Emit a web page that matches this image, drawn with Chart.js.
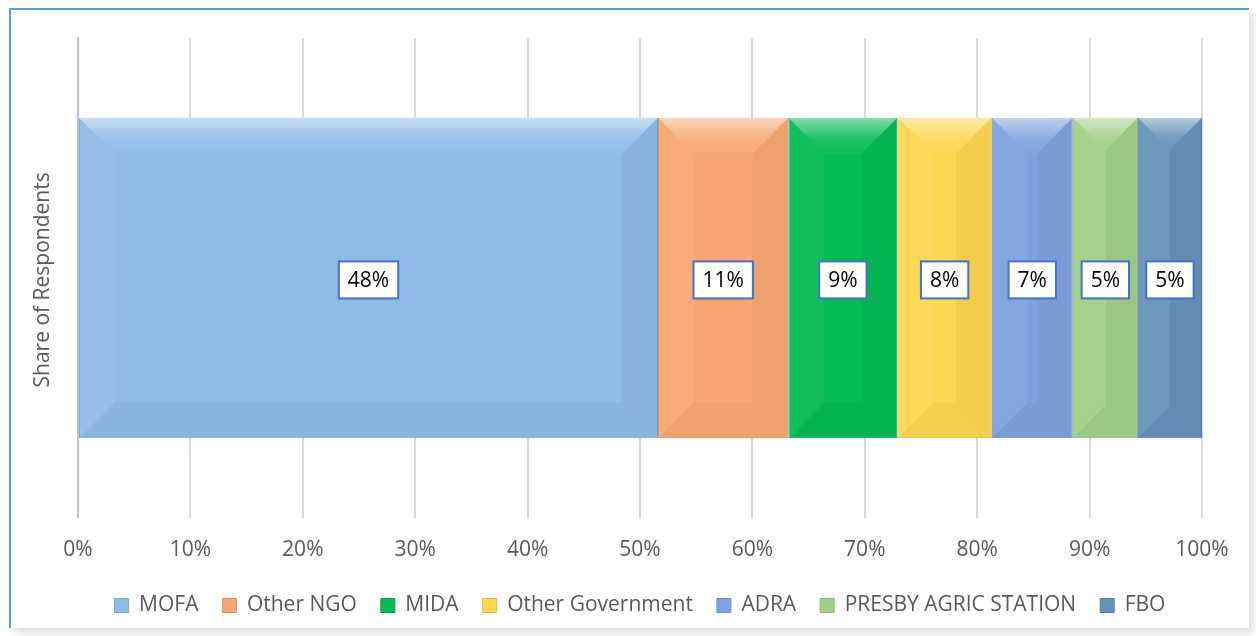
<!DOCTYPE html>
<html>
<head>
<meta charset="utf-8">
<script src="https://cdn.jsdelivr.net/npm/chart.js@4"></script>
<style>
  html, body { margin:0; padding:0; background:#fff; width:1256px; height:636px; overflow:hidden; }
  .frame { position:absolute; left:9px; top:8px; width:1238px; height:618px;
           border-left:2px solid #5b9bd5; border-top:2px solid #5b9bd5;
           box-shadow: 5px 5px 7px rgba(0,0,0,0.13); background:#fff; }
  .wrap { position:absolute; left:0; top:0; width:1256px; height:636px; }
</style>
</head>
<body>
<div class="frame"></div>
<div class="wrap"><canvas id="chart"></canvas></div>
<script>
// --- DATA ---
const groups = ["MOFA", "Other NGO", "MIDA", "Other Government", "ADRA", "PRESBY AGRIC STATION", "FBO"];
const shares = [51.6, 11.6, 9.7, 8.4, 7.2, 5.8, 5.7];   // bar length on the 100% axis
const pctLabels = [48, 11, 9, 8, 7, 5, 5];               // printed labels
const colors = ["#8fbbe8", "#f8a872", "#05bb56", "#fdd652", "#7fa2de", "#a3cf8a", "#6692ba"];
const edges  = ["#7aa6d3", "#dd9060", "#04a049", "#e2bb44", "#6b8ccb", "#8db875", "#557ea5"];
const xTicks = [0, 10, 20, 30, 40, 50, 60, 70, 80, 90, 100];
const yTitle = "Share of Respondents";

const FONT = "'Open Sans', 'Noto Sans', sans-serif";
const GREY = "#595959";
const FS = 21;

// bevel + label boxes, drawn after the bars
const bevelAndLabels = {
    id: 'bevelAndLabels',
    afterDatasetsDraw(chart) {
        const ctx = chart.ctx;
        chart.data.datasets.forEach((ds, i) => {
            const meta = chart.getDatasetMeta(i);
            meta.data.forEach(bar => {
                const l = Math.min(bar.base, bar.x), r = Math.max(bar.base, bar.x);
                const t = bar.y - bar.height / 2, b = bar.y + bar.height / 2;
                const bv = Math.min(36, (r - l) / 2);
                ctx.save();
                // top
                let g = ctx.createLinearGradient(0, t, 0, t + bv);
                g.addColorStop(0, 'rgba(255,255,255,0.5)');
                g.addColorStop(0.6, 'rgba(255,255,255,0.1)');
                g.addColorStop(1, 'rgba(255,255,255,0.03)');
                ctx.fillStyle = g;
                ctx.beginPath(); ctx.moveTo(l, t); ctx.lineTo(r, t); ctx.lineTo(r - bv, t + bv); ctx.lineTo(l + bv, t + bv); ctx.closePath(); ctx.fill();
                // left
                ctx.fillStyle = 'rgba(255,255,255,0.05)';
                ctx.beginPath(); ctx.moveTo(l, t); ctx.lineTo(l + bv, t + bv); ctx.lineTo(l + bv, b - bv); ctx.lineTo(l, b); ctx.closePath(); ctx.fill();
                // right
                ctx.fillStyle = 'rgba(0,0,0,0.04)';
                ctx.beginPath(); ctx.moveTo(r, t); ctx.lineTo(r - bv, t + bv); ctx.lineTo(r - bv, b - bv); ctx.lineTo(r, b); ctx.closePath(); ctx.fill();
                // bottom
                ctx.fillStyle = 'rgba(0,0,0,0.035)';
                ctx.beginPath(); ctx.moveTo(l, b); ctx.lineTo(r, b); ctx.lineTo(r - bv, b - bv); ctx.lineTo(l + bv, b - bv); ctx.closePath(); ctx.fill();
                ctx.restore();

                // label box
                const txt = pctLabels[i] + '%';
                ctx.save();
                ctx.font = FS + 'px ' + FONT;
                const w = ctx.measureText(txt).width + 18, h = 37;
                const cx = (l + r) / 2, cy = bar.y + 2;
                ctx.fillStyle = '#fff';
                ctx.fillRect(cx - w / 2, cy - h / 2, w, h);
                ctx.strokeStyle = '#4472c4';
                ctx.lineWidth = 2;
                ctx.strokeRect(cx - w / 2, cy - h / 2, w, h);
                ctx.fillStyle = '#000';
                ctx.textAlign = 'center';
                ctx.textBaseline = 'middle';
                ctx.fillText(txt, cx, cy + 1);
                ctx.restore();
            });
        });
    }
};

// rotated axis title, placed left of the plot
const sideTitle = {
    id: 'sideTitle',
    afterDraw(chart) {
        const ctx = chart.ctx, a = chart.chartArea;
        ctx.save();
        ctx.translate(43, (a.top + a.bottom) / 2 + 2);
        ctx.rotate(-Math.PI / 2);
        ctx.font = FS + 'px ' + FONT;
        ctx.fillStyle = GREY;
        ctx.textAlign = 'center';
        ctx.textBaseline = 'middle';
        ctx.fillText(yTitle, 0, 0);
        ctx.restore();
    }
};

new Chart(document.getElementById('chart'), {
    type: 'bar',
    data: {
        labels: [""],
        datasets: groups.map((g, i) => ({
            label: g,
            data: [shares[i]],
            backgroundColor: colors[i],
            borderColor: edges[i],
            borderWidth: 1,
            borderSkipped: false,
            barPercentage: 0.668,
            categoryPercentage: 1
        }))
    },
    options: {
        indexAxis: 'y',
        responsive: true,
        maintainAspectRatio: false,
        animation: false,
        layout: { padding: { left: 78, right: 54, top: 38, bottom: 10 } },
        scales: {
            x: {
                stacked: true, min: 0, max: 100,
                afterBuildTicks: axis => { axis.ticks = xTicks.map(v => ({ value: v })); },
                afterFit: axis => { axis.height -= 12; },
                ticks: { callback: v => v + '%', color: GREY, font: { family: FONT, size: FS }, padding: 20, maxRotation: 0 },
                grid: { color: '#d9d9d9', lineWidth: 2, drawTicks: false },
                border: { display: false }
            },
            y: {
                stacked: true,
                ticks: { display: false },
                grid: { display: false, drawTicks: false },
                border: { color: '#bfbfbf', width: 2 }
            }
        },
        plugins: {
            legend: {
                position: 'bottom',
                labels: { color: GREY, font: { family: FONT, size: FS }, boxWidth: 14, boxHeight: 14, padding: 24 }
            },
            tooltip: { enabled: false }
        }
    },
    plugins: [bevelAndLabels, sideTitle]
});
</script>
</body>
</html>
